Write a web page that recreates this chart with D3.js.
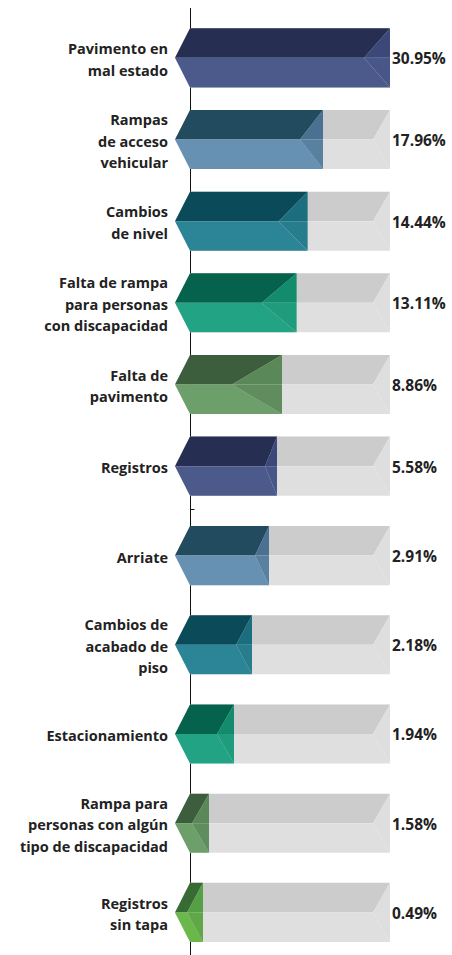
<!DOCTYPE html>
<html>
<head>
<meta charset="utf-8">
<script src="https://cdn.jsdelivr.net/npm/d3@7"></script>
<style>
  body { margin: 0; background: #fff; }
  svg { display: block; }
  text { font-family: "Open Sans", Lato, sans-serif; font-weight: 700; fill: #222; }
</style>
</head>
<body>
<script>
// categories (line breaks as in the picture)
var topCats = [
  'Pavimento en\nmal estado',
  'Rampas\nde acceso\nvehicular',
  'Cambios\nde nivel',
  'Falta de rampa\npara personas\ncon discapacidad',
  'Falta de\npavimento',
  'Registros'
];
var bottomCats = [
  'Arriate',
  'Cambios de\nacabado de\npiso',
  'Estacionamiento',
  'Rampa para\npersonas con algún\ntipo de discapacidad',
  'Registros\nsin tapa'
];
// percentage shown at the right of each bar
var topValues = [30.95, 17.96, 14.44, 13.11, 8.86, 5.58];
var bottomValues = [2.91, 2.18, 1.94, 1.58, 0.49];
// how far each coloured bar fills its grey track (0-100)
var topFill = [100, 66.5, 58.8, 53.3, 46, 43.5];
var bottomFill = [39.5, 31, 22, 9.5, 6.5];
// depth of the bevel at the bar end, same units
var topBevel = [13, 11.5, 14.5, 17.5, 25, 6];
var bottomBevel = [7, 8, 8.5, 8.5, 8];

var width = 452, height = 955;
var axisX = 190.5;
var tip = 15;       // left point sticks out past the axis
var trackBevel = 8.5;

// top face, bottom face, bevel upper, bevel lower
var palette = [
  ['#262f52', '#4b5a8b', '#3c4878', '#48568a'],
  ['#234b5f', '#6691b3', '#4a7191', '#5a809f'],
  ['#0b4a58', '#2c8597', '#1a6e7d', '#287d8c'],
  ['#05624c', '#22a383', '#128c6c', '#1e9c7b'],
  ['#3d5e3d', '#6c9f6a', '#5a8858', '#5f8d5d'],
  ['#386b33', '#6ab84a', '#55a044', '#5fa847']
];
var colorOrder = [0, 1, 2, 3, 4, 0, 1, 2, 3, 4, 5];

var svg = d3.select('body').append('svg').attr('width', width).attr('height', height);

var x = d3.scaleLinear().domain([0, 100]).range([190, 390]);

var yTop = d3.scaleBand().domain(topCats).range([17, 507]).paddingInner(0.277).paddingOuter(0.139);
var yBottom = d3.scaleBand().domain(bottomCats).range([511, 957]).paddingInner(0.338).paddingOuter(0.169);

function rows(cats, values, fill, bevel, y, offset) {
  return cats.map(function (c, i) {
    return { cat: c, value: values[i], fill: fill[i], bevel: bevel[i], y: y, idx: i + offset };
  });
}
var data = rows(topCats, topValues, topFill, topBevel, yTop, 0)
  .concat(rows(bottomCats, bottomValues, bottomFill, bottomBevel, yBottom, 6));

function pts(a) { return a.map(function (p) { return p.join(','); }).join(' '); }

// axis line + the small tick between the two groups
svg.append('line').attr('x1', axisX).attr('x2', axisX).attr('y1', 8).attr('y2', height)
  .attr('stroke', '#111').attr('stroke-width', 1);
svg.append('line').attr('x1', axisX).attr('x2', axisX + 4).attr('y1', 509.5).attr('y2', 509.5)
  .attr('stroke', '#111').attr('stroke-width', 1);

var g = svg.selectAll('g.bar').data(data).enter().append('g').attr('class', 'bar');

g.each(function (d) {
  var sel = d3.select(this);
  var t = d.y(d.cat), b = t + d.y.bandwidth(), m = (t + b) / 2;
  var x0 = x(0), xl = x0 - tip, xe = x(d.fill), k = x(d.bevel) - x(0);
  var xr = x(100), kg = x(trackBevel) - x(0);
  var c = palette[colorOrder[d.idx]];

  // grey track
  sel.append('polygon').attr('points', pts([[xl, m], [x0, t], [xr, t], [xr - kg, m]])).attr('fill', '#cbcccb');
  sel.append('polygon').attr('points', pts([[xl, m], [xr - kg, m], [xr, b], [x0, b]])).attr('fill', '#dfdfdf');
  sel.append('polygon').attr('points', pts([[xr, t], [xr - kg, m], [xr, b]])).attr('fill', '#dddedd');

  // coloured bar
  sel.append('polygon').attr('points', pts([[xl, m], [x0, t], [xe, t], [xe - k, m]])).attr('fill', c[0]);
  sel.append('polygon').attr('points', pts([[xl, m], [xe - k, m], [xe, b], [x0, b]])).attr('fill', c[1]);
  sel.append('polygon').attr('points', pts([[xe, t], [xe - k, m], [xe, m]])).attr('fill', c[2]);
  sel.append('polygon').attr('points', pts([[xe, m], [xe - k, m], [xe, b]])).attr('fill', c[3]);

  // category label
  var lines = d.cat.split('\n');
  var lh = 21.5;
  var txt = sel.append('text').attr('text-anchor', 'end').attr('font-size', 14.5);
  lines.forEach(function (l, j) {
    txt.append('tspan').attr('x', 168)
      .attr('y', m + 2 + (j - (lines.length - 1) / 2) * lh)
      .attr('dy', '0.35em').text(l);
  });

  // value label
  sel.append('text').attr('x', 392).attr('y', m + 1).attr('dy', '0.35em')
    .attr('font-size', 15.5).attr('fill', '#333')
    .text(d3.format('.2f')(d.value) + '%');
});
</script>
</body>
</html>
